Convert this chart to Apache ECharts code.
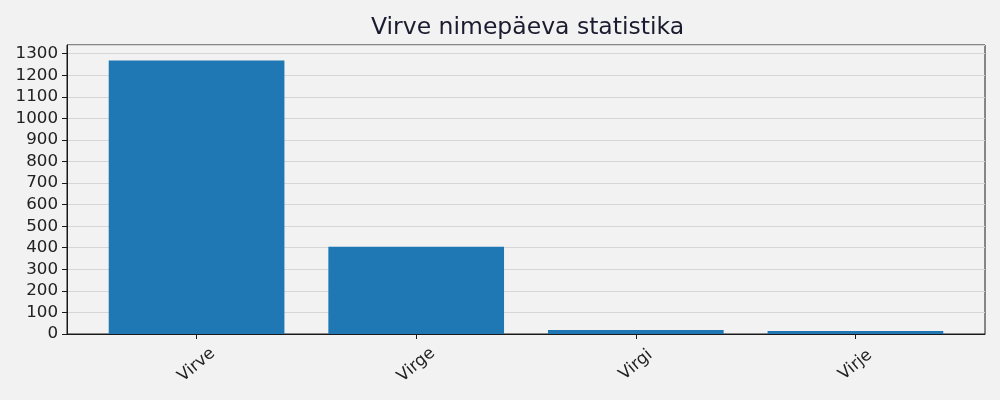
<!DOCTYPE html>
<html>
<head>
<meta charset="utf-8">
<script src="https://cdn.jsdelivr.net/npm/echarts@6/dist/echarts.min.js"></script>
<style>
  html, body { margin: 0; padding: 0; background: #f2f2f2; }
  #main { width: 1000px; height: 400px; }
</style>
</head>
<body>
<div id="main"></div>
<script type="text/javascript">
    // andmed
    var names = ['Virve', 'Virge', 'Virgi', 'Virje'];
    var counts = [1268, 405, 18, 14];
    var yTicks = [0, 100, 200, 300, 400, 500, 600, 700, 800, 900, 1000, 1100, 1200, 1300];

    var positions = names.map(function (n, i) { return i; });
    var barData = counts.map(function (v, i) { return [i, v]; });

    var myChart = echarts.init(document.getElementById('main'));
    var option = {
        backgroundColor: '#f2f2f2',
        animation: false,
        title: {
            text: 'Virve nimepäeva statistika',
            left: 366,
            top: 11,
            textStyle: {
                fontFamily: 'DejaVu Sans',
                fontWeight: 'normal',
                fontSize: 23.5,
                color: '#1b1b2f'
            }
        },
        grid: {
            left: 67,
            right: 15,
            top: 45,
            bottom: 66,
            show: true,
            borderColor: '#1a1a1a',
            borderWidth: 1,
            backgroundColor: '#f2f2f2'
        },
        xAxis: {
            type: 'value',
            min: -0.59,
            max: 3.59,
            splitLine: {show: false},
            axisLine: {show: true, onZero: false, lineStyle: {color: '#1a1a1a'}},
            axisTick: {
                show: true,
                length: 5,
                customValues: positions,
                lineStyle: {color: '#1a1a1a'}
            },
            axisLabel: {
                customValues: positions,
                rotate: 40,
                align: 'center',
                verticalAlign: 'middle',
                margin: 31,
                fontFamily: 'DejaVu Sans',
                fontSize: 16.7,
                color: '#222',
                formatter: function (v) { return names[Math.round(v)]; }
            }
        },
        yAxis: {
            type: 'value',
            min: 0,
            max: 1340,
            interval: 100,
            axisLine: {show: true, onZero: false, lineStyle: {color: '#1a1a1a'}},
            axisTick: {show: true, length: 5, lineStyle: {color: '#1a1a1a'}},
            axisLabel: {
                showMaxLabel: false,
                margin: 9,
                fontFamily: 'DejaVu Sans',
                fontSize: 16.7,
                color: '#222',
                formatter: function (v) { return yTicks.indexOf(v) >= 0 ? String(v) : ''; }
            },
            splitLine: {show: true, lineStyle: {color: '#d6d6d6', width: 1}}
        },
        series: [
            {
                type: 'bar',
                data: barData,
                barWidth: '80%',
                itemStyle: {color: '#1f77b4'}
            }
        ]
    };
    myChart.setOption(option);
</script>
</body>
</html>
